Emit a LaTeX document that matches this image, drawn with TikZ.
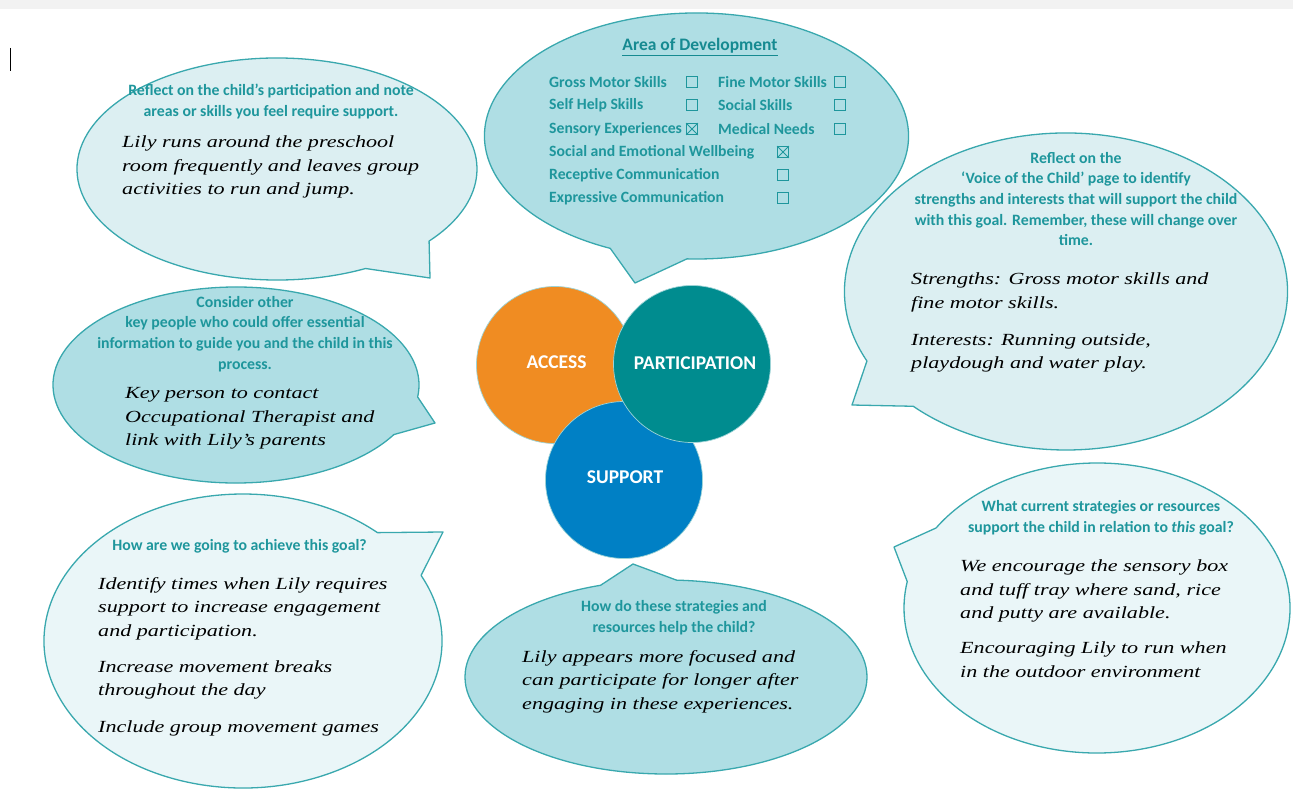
\documentclass[tikz,border=0pt]{standalone}
\usepackage{fontspec}
\setmainfont{Carlito}
\newfontfamily\handfont[FakeStretch=1.3]{Liberation Serif}
\usetikzlibrary{calc}
\definecolor{bline}{HTML}{39A8AE}
\definecolor{fillA}{HTML}{DCEFF2}
\definecolor{fillB}{HTML}{AFDEE4}
\definecolor{fillC}{HTML}{EAF6F8}
\definecolor{headc}{HTML}{1E969C}
\definecolor{titlec}{HTML}{168A91}
\definecolor{accessc}{HTML}{F08C22}
\definecolor{partc}{HTML}{008C8F}
\definecolor{suppc}{HTML}{0080C5}
\newcommand{\spbubble}[8]{%
  \draw[bubble, fill=#1] ($(#2,#3)+(#6:#4 and #5)$) -- #7 -- ($(#2,#3)+(#8:#4 and #5)$)
    arc[start angle=#8, end angle=#6+360, x radius=#4, y radius=#5] -- cycle;}
\tikzset{
  bubble/.style={draw=bline, line width=1.3pt, line join=round},
  head/.style={font=\fontsize{15.8}{20.7}\selectfont\bfseries, text=headc, align=center, inner sep=0pt},
  body/.style={font=\fontsize{17}{23.5}\selectfont\handfont\itshape, text=black, align=left, inner sep=0pt, anchor=west},
  circ/.style={circle, minimum size=157pt, inner sep=0pt, draw=bline!50, line width=0.7pt},
  ctext/.style={font=\fontsize{19.5}{22}\selectfont\bfseries, text=white, inner sep=0pt},
  cbox/.style={draw=headc, line width=0.9pt, minimum size=11pt, inner sep=0pt},
  item/.style={font=\fontsize{15.7}{18}\selectfont\bfseries, text=headc, anchor=west, inner sep=0pt},
}
\newcommand{\xbox}[1]{\draw[headc, line width=0.8pt] (#1.north west) -- (#1.south east) (#1.north east) -- (#1.south west);}
\begin{document}
\begin{tikzpicture}[x=1pt,y=-1pt]
\useasboundingbox (0,0) rectangle (1293,789);
\fill[white] (0,0) rectangle (1293,789);
\fill[black!5] (0,0) rectangle (1293,9);
\draw[black, line width=0.8pt] (10,48) -- (10,71);

% speech bubbles
\spbubble{fillA}{277}{169}{200}{111}{40.5}{(430,278)}{63.7}
\spbubble{fillB}{696.5}{136}{212}{123}{92.6}{(635,283)}{114}
\spbubble{fillA}{1066}{291.5}{221.5}{158.5}{133.6}{(852,405)}{154}
\spbubble{fillB}{236}{385}{183}{98}{7}{(435,423)}{30.4}
\spbubble{fillC}{243}{641}{199}{147}{312.5}{(443,532)}{333.5}
\spbubble{fillB}{666}{677}{201}{97}{251}{(633,564)}{273}
\spbubble{fillC}{1097}{608}{193}{145}{190.5}{(894,547)}{213.5}

% top-left
\node[head] (h1) at (271,101.5) {Reflect on the child’s participation and note\\areas or skills you feel require support.};
\node[body] (b1) at (122,167) {Lily runs around the preschool\\room frequently and leaves group\\activities to run and jump.};

% top centre
\node[font=\fontsize{17.5}{20}\selectfont\bfseries, text=titlec, inner sep=0pt] (title) at (700,47) {\underline{Area of Development}};
\node[item] (i1) at (549,82) {Gross Motor Skills};
\node[item] (i2) at (718,82) {Fine Motor Skills};
\node[item] (i3) at (549,105) {Self Help Skills};
\node[item] (i4) at (718,105) {Social Skills};
\node[item] (i5) at (549,129) {Sensory Experiences};
\node[item] (i6) at (718,129) {Medical Needs};
\node[item] (i7) at (549,152) {Social and Emotional Wellbeing};
\node[item] (i8) at (549,175) {Receptive Communication};
\node[item] (i9) at (549,198) {Expressive Communication};
\node[cbox] (c1) at (692,82) {};
\node[cbox] (c2) at (840,82) {};
\node[cbox] (c3) at (692,105) {};
\node[cbox] (c4) at (840,105) {};
\node[cbox] (c5) at (692,129) {}; \xbox{c5}
\node[cbox] (c6) at (840,129) {};
\node[cbox] (c7) at (783,152) {}; \xbox{c7}
\node[cbox] (c8) at (783,175) {};
\node[cbox] (c9) at (783,198) {};

% right
\node[head] (h3) at (1076,199) {Reflect on the\\‘Voice of the Child’ page to identify\\strengths and interests that will support the child\\with this goal. Remember, these will change over\\time.};
\node[body] (b3) at (911,322.5) {Strengths: Gross motor skills and\\fine motor skills.\\[13.5pt]Interests: Running outside,\\playdough and water play.};

% middle-left
\node[head] (h4) at (245,334) {Consider other\\key people who could offer essential\\information to guide you and the child in this\\process.};
\node[body] (b4) at (125,418.5) {Key person to contact\\Occupational Therapist and\\link with Lily’s parents};

% circles
\node[circ, fill=accessc] (acc) at (555,365) {};
\node[circ, fill=suppc] (sup) at (624,480) {};
\node[circ, fill=partc] (par) at (692,364) {};
\node[ctext] (tacc) at (556.5,362) {ACCESS};
\node[ctext] (tpar) at (695,363) {PARTICIPATION};
\node[ctext] (tsup) at (625,477) {SUPPORT};

% bottom-left
\node[head] (h5) at (239.5,546) {How are we going to achieve this goal?};
\node[body] (b5) at (98,657) {Identify times when Lily requires\\support to increase engagement\\and participation.\\[12.5pt]Increase movement breaks\\throughout the day\\[13.5pt]Include group movement games};

% bottom centre
\node[head] (h6) at (674,618) {How do these strategies and\\resources help the child?};
\node[body] (b6) at (522,681.5) {Lily appears more focused and\\can participate for longer after\\engaging in these experiences.};

% bottom-right
\node[head] (h7) at (1101,518) {What current strategies or resources\\support the child in relation to \textit{this} goal?};
\node[body] (b7) at (960,618.5) {We encourage the sensory box\\and tuff tray where sand, rice\\and putty are available.\\[11.5pt]Encouraging Lily to run when\\in the outdoor environment};
\end{tikzpicture}
\end{document}
